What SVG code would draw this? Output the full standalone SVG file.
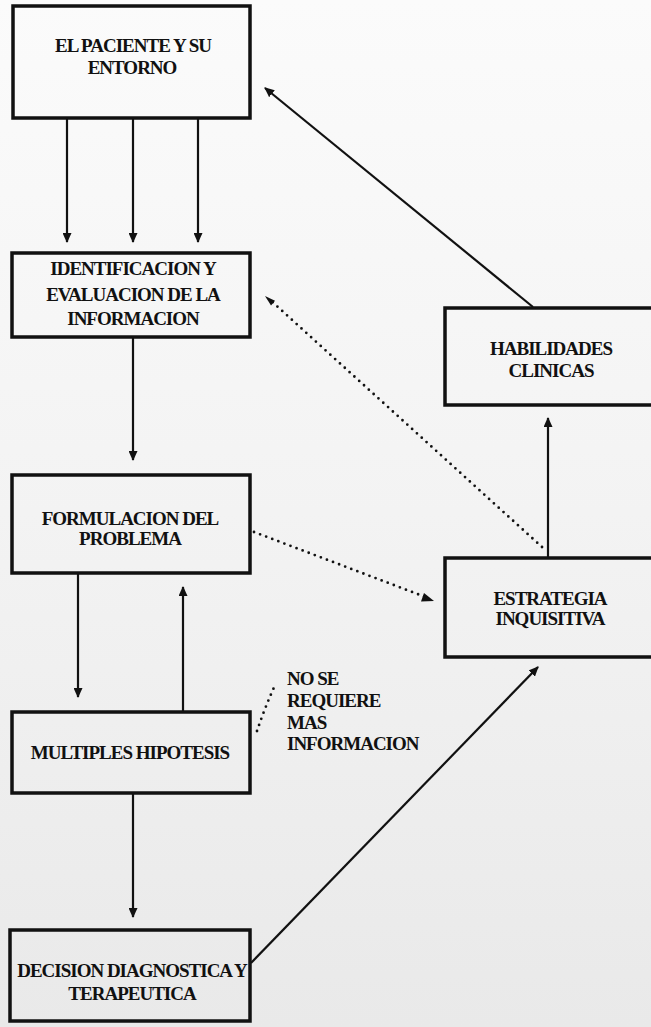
<svg xmlns="http://www.w3.org/2000/svg" width="651" height="1027" viewBox="0 0 651 1027">
<defs>
<linearGradient id="bg" x1="0" y1="0" x2="0" y2="1">
<stop offset="0" stop-color="#fbfbfb"/>
<stop offset="0.5" stop-color="#f3f3f3"/>
<stop offset="1" stop-color="#e9e9e9"/>
</linearGradient>
<marker id="ah" markerUnits="userSpaceOnUse" markerWidth="10" markerHeight="9" refX="9" refY="4.5" orient="auto">
<path d="M0,0 L10,4.5 L0,9 z" fill="#111"/>
</marker>
<style>
.box{fill:none;stroke:#111;stroke-width:3.5}
.t{font-family:"Liberation Serif","Times New Roman",serif;font-weight:bold;font-size:19px;letter-spacing:-1px;fill:#111;text-anchor:middle}
.tl{font-family:"Liberation Serif","Times New Roman",serif;font-weight:bold;font-size:19px;letter-spacing:-1px;fill:#111}
.c{fill:none;stroke:#111;stroke-width:2.2;marker-end:url(#ah)}
.d{fill:none;stroke:#111;stroke-width:2.8;stroke-linecap:round;stroke-dasharray:0 6.5}
</style>
</defs>
<rect width="651" height="1027" fill="url(#bg)"/>

<g id="connectors">
<line class="c" x1="67" y1="119" x2="67" y2="242"/>
<line class="c" x1="133" y1="119" x2="133" y2="242"/>
<line class="c" x1="198" y1="119" x2="198" y2="242"/>
<line class="c" x1="133" y1="338" x2="133" y2="460"/>
<line class="c" x1="78" y1="574" x2="78" y2="697"/>
<line class="c" x1="183" y1="711" x2="183" y2="587"/>
<line class="c" x1="133" y1="794" x2="133" y2="917"/>
<line class="c" x1="533" y1="307" x2="265" y2="88"/>
<line class="c" x1="548" y1="557" x2="548" y2="418"/>
<line class="c" x1="251" y1="963" x2="538" y2="667"/>
<path class="d" d="M542,547 L268,298"/>
<path d="M275,300.7 L265,296 L271,305.5 z" fill="#111"/>
<path class="d" d="M254,532 L428,598"/>
<path d="M424,593 L434,601 L421,601.5 z" fill="#111"/>
<path class="d" d="M257,731 Q265,707 276,683"/>
</g>

<g id="n1">
<rect class="box" x="13" y="6" width="237" height="112"/>
<text class="t" x="133" y="52">EL PACIENTE Y SU</text>
<text class="t" x="132" y="74">ENTORNO</text>
</g>

<g id="n2">
<rect class="box" x="12" y="253" width="238" height="84"/>
<text class="t" x="133" y="275">IDENTIFICACION Y</text>
<text class="t" x="133" y="301">EVALUACION DE LA</text>
<text class="t" x="133" y="325">INFORMACION</text>
</g>

<g id="n3">
<rect class="box" x="12" y="475" width="238" height="98"/>
<text class="t" x="130" y="525">FORMULACION DEL</text>
<text class="t" x="130" y="545">PROBLEMA</text>
</g>

<g id="n4">
<rect class="box" x="12" y="712" width="238" height="81"/>
<text class="t" x="130" y="759">MULTIPLES HIPOTESIS</text>
</g>

<g id="n5">
<rect class="box" x="10" y="930" width="240" height="91"/>
<text class="t" x="132" y="977">DECISION DIAGNOSTICA Y</text>
<text class="t" x="132" y="1000">TERAPEUTICA</text>
</g>

<g id="n6">
<rect class="box" x="445" y="308" width="220" height="97"/>
<text class="t" x="551" y="355">HABILIDADES</text>
<text class="t" x="551" y="377">CLINICAS</text>
</g>

<g id="n7">
<rect class="box" x="445" y="558" width="220" height="99"/>
<text class="t" x="550" y="605">ESTRATEGIA</text>
<text class="t" x="550" y="625">INQUISITIVA</text>
</g>

<g id="label">
<text class="tl" x="287" y="685">NO SE</text>
<text class="tl" x="287" y="707">REQUIERE</text>
<text class="tl" x="287" y="729">MAS</text>
<text class="tl" x="287" y="750">INFORMACION</text>
</g>
</svg>
